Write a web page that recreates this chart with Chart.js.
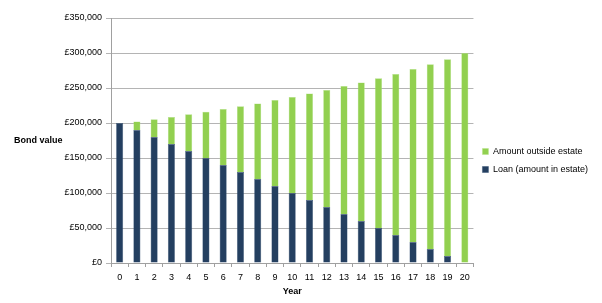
<!DOCTYPE html>
<html>
<head>
<meta charset="utf-8">
<script src="https://cdn.jsdelivr.net/npm/chart.js@4/dist/chart.umd.min.js"></script>
<style>
  html, body { margin: 0; padding: 0; background: #fff; }
  #wrap { width: 602px; height: 303px; position: relative; }
</style>
</head>
<body>
<div id="wrap"><canvas id="myChart"></canvas></div>
<script>
const years = ['0','1','2','3','4','5','6','7','8','9','10','11','12','13','14','15','16','17','18','19','20']
const loan = [200000,190000,180000,170000,160000,150000,140000,130000,120000,110000,100000,90000,80000,70000,60000,50000,40000,30000,20000,10000,0]
const totalValue = [200000,202000,205500,208500,212500,216000,220000,224000,228000,233000,237000,242000,247000,253000,258000,264000,270000,277000,284000,291000,300000]
const outside = totalValue.map((v, i) => v - loan[i])
const yTicks = [0,50000,100000,150000,200000,250000,300000,350000]

const font = { family: "'Liberation Sans', Arial, sans-serif", size: 9 }

const sideTitle = {
  id: 'sideTitle',
  afterDraw(chart) {
    const c = chart.ctx
    c.save()
    c.font = "bold 9px 'Liberation Sans', Arial, sans-serif"
    c.fillStyle = '#000'
    c.textBaseline = 'middle'
    c.fillText('Bond value', 14, 141)
    c.restore()
  }
}

var ctx = document.getElementById('myChart').getContext('2d');

new Chart(ctx, {
  type: 'bar',
  data: {
    labels: years,
    datasets: [{
      label: 'Loan (amount in estate)',
      data: loan,
      backgroundColor: '#243F60',
      borderColor: '#3b5677',
      borderWidth: 0.5
    }, {
      label: 'Amount outside estate',
      data: outside,
      backgroundColor: '#92D050',
      borderColor: '#b6e38a',
      borderWidth: 0.5
    }]
  },
  options: {
    responsive: true,
    maintainAspectRatio: false,
    animation: false,
    barPercentage: 0.82,
    categoryPercentage: 0.5,
    layout: { padding: { top: 18, left: 0, right: 4, bottom: 0 } },
    plugins: {
      tooltip: { enabled: false },
      legend: {
        position: 'right',
        reverse: true,
        labels: {
          font: font,
          color: '#000',
          boxWidth: 6,
          boxHeight: 6,
          padding: 9
        }
      }
    },
    scales: {
      x: {
        stacked: true,
        grid: { display: true, drawOnChartArea: false, offset: true, tickLength: 4, color: '#a0a0a0' },
        border: { color: '#a0a0a0' },
        ticks: { font: font, color: '#000', padding: 5, maxRotation: 0 },
        title: { display: true, text: 'Year', font: { family: font.family, size: 9, weight: 'bold' }, color: '#000', padding: { top: 3, bottom: 6 } },
        afterFit: s => { s.height = 40 }
      },
      y: {
        stacked: true,
        min: 0,
        max: 350000,
        afterBuildTicks: s => { s.ticks = yTicks.map(v => ({ value: v })) },
        grid: { color: '#b4b4b4', tickLength: 5 },
        border: { color: '#a0a0a0' },
        ticks: {
          font: font,
          color: '#000',
          padding: 4,
          callback: v => '£' + v.toLocaleString('en-GB')
        },
        afterFit: s => { s.width = 111 }
      }
    }
  },
  plugins: [sideTitle]
});
</script>
</body>
</html>
